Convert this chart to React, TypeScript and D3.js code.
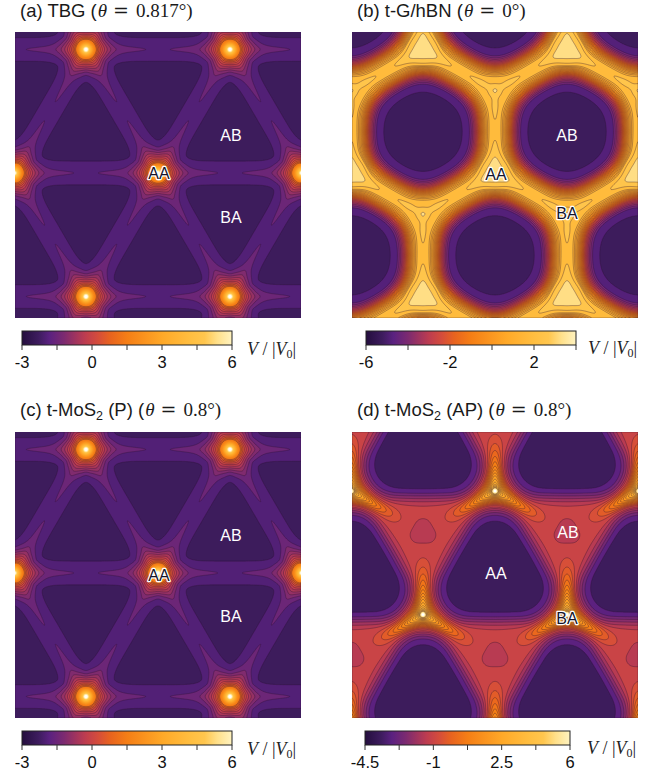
import React, { useMemo } from "react";
import * as d3 from "d3";

// Potential maps. The originals are dense computed grids, which cannot be read cell by cell;
// each field below is rebuilt from values estimated on the picture: extreme heights at the
// stacking sites, ridge heights and widths, and the contour levels.
const COLOR_T = [0, 0.08, 0.13, 0.2, 0.3, 0.36, 0.42, 0.5, 0.67, 0.8, 0.87, 0.93, 1, 1.06];
const COLOR_V = ["#240e3e", "#3e1c5f", "#5a2180", "#7c2a70", "#bd3c50", "#d44c3c", "#e8631f", "#f57e15", "#ffa928", "#ffbe40", "#ffc64e", "#ffe08a", "#fff3c0", "#ffffff"];
const WELL_COLOR = "#3d1c5c";

const LEVELS_A = [-2.25, -1.68, -1.3, -1.0, -0.7, -0.4, -0.1, 0.2, 0.5, 0.8, 1.1, 1.4, 1.7, 2.0, 2.3, 2.6, 2.9, 3.2, 3.5, 3.8, 4.1, 4.4, 4.7, 5.0, 5.3, 5.6, 5.9, 6.2];
const LEVELS_B = [-5.2, -4.4, -4.05, -3.7, -3.35, -3.0, -2.65, -2.3, -1.95, -1.6, -1.25, -0.9, -0.55, -0.2, 0.15, 0.5, 0.85, 1.15, 1.45, 2.15, 3.0];
const LEVELS_D = [-3.4, -2.8, -2.4, -2.0, -1.6, -1.25, -0.8, -0.45, -0.1, 0.25, 0.6, 0.95, 1.3, 1.65, 2.0, 2.4, 2.8, 3.2, 3.6, 4.0, 4.4, 4.8, 5.2, 5.6, 6.0, 6.4];

const TICKS_A = [-3, -1.5, 0, 1.5, 3, 4.5, 6];
const TICK_LABELS_A = ["-3", "", "0", "", "3", "", "6"];
const TICKS_B = [-6, -4, -2, 0, 2, 4];
const TICK_LABELS_B = ["-6", "", "-2", "", "2", ""];
const TICKS_D = [-4.5, -2.75, -1, 0.75, 2.5, 4.25, 6];
const TICK_LABELS_D = ["-4.5", "", "-1", "", "2.5", "", "6"];

type Term = [number, number, number];
type Cfg = {
  kind: "tri" | "honey"; ox: number; oy: number; lo: number; hi: number; wall: Term[];
  siteA: Term[]; siteB: Term[]; spokeA: number[]; spokeB: number[]; levels: number[];
  circleR?: number; rounded?: number[]; vmin: number; vmax: number; lineMax: number;
};

const CFG_A: Cfg = { kind: "tri", ox: 0, oy: -0.014, lo: -2.8, hi: -1.9, wall: [[1, 15, 3]],
  siteA: [[3, 3, 1.2], [3.6, 7, 1.5], [3, 20, 2]], siteB: [], spokeA: [0.55, 55, 4.5, 2, 28], spokeB: [], levels: LEVELS_A, vmin: -3, vmax: 6, lineMax: 1.1 };
const CFG_C: Cfg = { ...CFG_A };
const CFG_B: Cfg = { kind: "honey", ox: 0, oy: -0.014, lo: -6, hi: 1.8, wall: [[0.84, 17, 2.6], [0.16, 35, 3]], circleR: 74,
  siteA: [[1.8, 14, 2]], siteB: [[1.3, 6, 2]], spokeA: [1, 30, 5, 2, 10], spokeB: [0.9, 28, 4, 2, 10], levels: LEVELS_B, vmin: -6, vmax: 4, lineMax: 99 };
const CFG_D: Cfg = { kind: "honey", ox: 0, oy: -0.583, lo: -4.3, hi: -1.05, wall: [], rounded: [39, 1.21, 6],
  siteA: [[2.5, 2.2, 1.2], [4.5, 7, 1.4], [1.5, 14, 2], [0.4, 38, 2]], siteB: [[-0.42, 17, 2]], spokeA: [3, 36, 8, 2, 10], spokeB: [], levels: LEVELS_D, vmin: -4.5, vmax: 6, lineMax: 5 };

const PANELS = [
  { cfg: CFG_A, x: 15, y: 32 }, { cfg: CFG_B, x: 352, y: 32 },
  { cfg: CFG_C, x: 15, y: 432 }, { cfg: CFG_D, x: 352, y: 432 },
];
const SIZE = 286, PERIOD = 144, ROW = 0.858, RES = 1.5;

const cmap = d3.scaleLinear<string>().domain(COLOR_T).range(COLOR_V).interpolate(d3.interpolateRgb);

function spokeAt(sp: number[], s: number, d2: number) {
  return sp[0] * Math.exp(-Math.pow(s / sp[1], sp[3]) - d2 / (sp[2] * sp[2])) * (1 - Math.exp(-(s * s) / (sp[4] * sp[4])));
}

function buildField(c: Cfg) {
  const half = SIZE / 2, m = 120;
  const Ax: number[][] = [], Bx: number[][] = [], Wx: number[][] = [], segs: number[][] = [];
  const h23 = (2 / 3) * ROW * PERIOD;
  for (let j = -4; j <= 4; j++) for (let i = -5; i <= 5; i++) {
    const x = (i + j * 0.5 + c.ox) * PERIOD, y = (j * ROW + c.oy) * PERIOD;
    if (Math.abs(x) > half + m || Math.abs(y) > half + m) continue;
    Ax.push([x, y]);
    if (c.kind === "tri") {
      segs.push([x, y, x + PERIOD, y], [x, y, x + PERIOD / 2, y + ROW * PERIOD], [x, y, x - PERIOD / 2, y + ROW * PERIOD]);
    } else {
      Bx.push([x, y - h23]);
      Wx.push([x - PERIOD / 2, y - h23 / 2]);
      segs.push([x, y, x, y - h23], [x, y, x + PERIOD / 2, y + h23 / 2], [x, y, x - PERIOD / 2, y + h23 / 2]);
    }
  }
  const n = Math.round(SIZE * RES);
  const vals = new Float64Array(n * n);
  const terms = (list: number[][], t: Term[], px: number, py: number) => {
    let s = 0;
    for (const p of list) {
      const d = Math.hypot(px - p[0], py - p[1]);
      for (const q of t) { const e = Math.pow(d / q[1], q[2]); if (e < 12) s += q[0] * Math.exp(-e); }
    }
    return s;
  };
  for (let iy = 0; iy < n; iy++) for (let ix = 0; ix < n; ix++) {
    const px = (ix + 0.5) / RES - half, py = (iy + 0.5) / RES - half;
    let acc = 0, spoke = 0;
    for (const s of segs) {
      const dx = s[2] - s[0], dy = s[3] - s[1], L2 = dx * dx + dy * dy;
      const t = Math.max(0, Math.min(1, ((px - s[0]) * dx + (py - s[1]) * dy) / L2));
      const qx = s[0] + t * dx - px, qy = s[1] + t * dy - py;
      const d2 = qx * qx + qy * qy + 1e-4;
      acc += 1 / (d2 * d2 * d2);
      if (d2 < 900) {
        const L = Math.sqrt(L2);
        if (c.spokeA.length) spoke += spokeAt(c.spokeA, t * L, d2);
        const sb = c.kind === "tri" ? c.spokeA : c.spokeB;
        if (sb.length) spoke += spokeAt(sb, (1 - t) * L, d2);
      }
    }
    let nr = 1e9, nx = 0, ny = 0;
    for (const p of Wx) { const r = Math.hypot(px - p[0], py - p[1]); if (r < nr) { nr = r; nx = px - p[0]; ny = py - p[1]; } }
    let base: number;
    if (c.rounded) {
      const [edge, rho0, pw] = c.rounded;
      const a = Math.max(0, ny), b = Math.max(0, 0.866 * nx - 0.5 * ny), e = Math.max(0, -0.866 * nx - 0.5 * ny);
      const rho = Math.sqrt(a * a + b * b + e * e) / edge;
      base = c.lo + (c.hi - c.lo) * (1 - Math.exp(-Math.pow(rho / rho0, pw)));
    } else {
      if (c.circleR) { const r = Math.max(0.01, c.circleR - nr); acc += 1 / Math.pow(r, 6); }
      const ds = Math.pow(acc, -1 / 6);
      let w = 0;
      for (const q of c.wall) w += q[0] * Math.exp(-Math.pow(ds / q[1], q[2]));
      base = c.lo + (c.hi - c.lo) * w;
    }
    vals[iy * n + ix] = base + spoke + terms(Ax, c.siteA, px, py) + terms(Bx, c.siteB, px, py);
  }
  return { n, vals };
}

const sans = "'Liberation Sans', Arial, sans-serif";
const serif = "'Liberation Serif', serif";

function Title({ x, y, head, sub, tail, math }: any) {
  return (
    <text x={x} y={y} fontFamily={sans} fontSize={18.5} fill="#1a1a1a">
      {head}{sub ? <tspan fontSize={12.5} dy={4}>2</tspan> : null}
      <tspan dy={sub ? -4 : 0}>{tail}</tspan>
      <tspan fontFamily={serif} fontStyle="italic" fontSize={19} dx={1}>{"θ"}</tspan>
      <tspan fontFamily="'DejaVu Serif', serif" fontSize={19} dx={6}>{"="}</tspan>
      <tspan fontFamily={serif} fontSize={19} dx={7}>{math}</tspan>
    </text>
  );
}

function ColorBar({ x, y, w, dom, ticks, labels, id, lx, ly }: any) {
  const sc = d3.scaleLinear().domain(dom).range([x, x + w]);
  return (
    <g>
      <defs>
        <linearGradient id={id}>
          {COLOR_T.filter((t) => t <= 1).map((t, i) => <stop key={i} offset={t} stopColor={COLOR_V[i]} />)}
        </linearGradient>
      </defs>
      <rect x={x} y={y} width={w} height={14} fill={`url(#${id})`} stroke="#222" strokeWidth={1} />
      {ticks.map((t: number, i: number) => (
        <g key={i}>
          <line x1={sc(t)} x2={sc(t)} y1={y + 14} y2={y + 19} stroke="#333" strokeWidth={1} />
          {labels[i] ? <text x={sc(t)} y={y + 37} textAnchor="middle" fontFamily={sans} fontSize={16.5} fill="#111">{labels[i]}</text> : null}
        </g>
      ))}
      <text x={lx} y={ly} fontFamily={serif} fontSize={18} fill="#222">
        <tspan fontStyle="italic">V</tspan><tspan> / |</tspan><tspan fontStyle="italic">V</tspan>
        <tspan fontSize={12} dy={3}>0</tspan><tspan dy={-3}>|</tspan>
      </text>
    </g>
  );
}

function Label({ x, y, t, halo }: any) {
  return (
    <text x={x} y={y} textAnchor="middle" fontFamily={sans} fontSize={16}
      fill={halo ? "#14142a" : "#fff"} stroke={halo ? "#fff" : "none"} strokeWidth={halo ? 2.4 : 0}
      paintOrder="stroke" strokeLinejoin="round">{t}</text>
  );
}

function Map({ cfg, x, y, id }: any) {
  const paths = useMemo(() => {
    const { n, vals } = buildField(cfg);
    const gen = d3.contours().size([n, n]).smooth(true).thresholds(cfg.levels);
    const cs = gen(vals as any);
    const geo = d3.geoPath(d3.geoIdentity().scale(1 / RES) as any);
    return cs.map((c: any, i: number) => {
      const hi = i + 1 < cfg.levels.length ? cfg.levels[i + 1] : c.value + 0.5;
      return { d: geo(c) as string, v: (c.value + hi) / 2, line: c.value <= cfg.lineMax };
    });
  }, [cfg]);
  const tOf = d3.scaleLinear().domain([cfg.vmin, cfg.vmax]).range([0, 1]);
  return (
    <g transform={`translate(${x},${y})`}>
      <clipPath id={id}><rect width={SIZE} height={SIZE} /></clipPath>
      <g clipPath={`url(#${id})`}>
        <rect width={SIZE} height={SIZE} fill={WELL_COLOR} />
        {paths.map((p: any, i: number) => (
          <path key={i} d={p.d} fill={cmap(tOf(p.v))} stroke={p.line ? "#2a1230" : "none"} strokeOpacity={0.6} strokeWidth={0.6} />
        ))}
      </g>
    </g>
  );
}

export default function App() {
  return (
    <svg width={665} height={772} style={{ position: "absolute", left: 0, top: 0, background: "#fff" }}>
      <Title x={20} y={17} head="(a) TBG (" tail="" math="0.817°)" />
      <Title x={357} y={17} head="(b) t-G/hBN (" tail="" math="0°)" />
      <Title x={20} y={416} head="(c) t-MoS" sub tail=" (P) (" math="0.8°)" />
      <Title x={357} y={416} head="(d) t-MoS" sub tail=" (AP) (" math="0.8°)" />
      {PANELS.map((p, i) => <Map key={i} cfg={p.cfg} x={p.x} y={p.y} id={`clip${i}`} />)}
      <Label x={231} y={141} t="AB" /><Label x={231} y={223} t="BA" /><Label x={159} y={179} t="AA" halo />
      <Label x={567} y={141} t="AB" /><Label x={567} y={219} t="BA" halo /><Label x={496} y={180} t="AA" halo />
      <Label x={231} y={541} t="AB" /><Label x={231} y={622} t="BA" /><Label x={159} y={581} t="AA" halo />
      <Label x={568} y={538} t="AB" /><Label x={567} y={624} t="BA" halo /><Label x={496} y={579} t="AA" />
      <ColorBar x={22} y={331} w={210} dom={[-3, 6]} ticks={TICKS_A} labels={TICK_LABELS_A} id="g1" lx={247} ly={355} />
      <ColorBar x={366} y={331} w={210} dom={[-6, 4]} ticks={TICKS_B} labels={TICK_LABELS_B} id="g2" lx={588} ly={354} />
      <ColorBar x={22} y={731} w={210} dom={[-3, 6]} ticks={TICKS_A} labels={TICK_LABELS_A} id="g3" lx={247} ly={755} />
      <ColorBar x={365} y={731} w={205} dom={[-4.5, 6]} ticks={TICKS_D} labels={TICK_LABELS_D} id="g4" lx={587} ly={754} />
    </svg>
  );
}
